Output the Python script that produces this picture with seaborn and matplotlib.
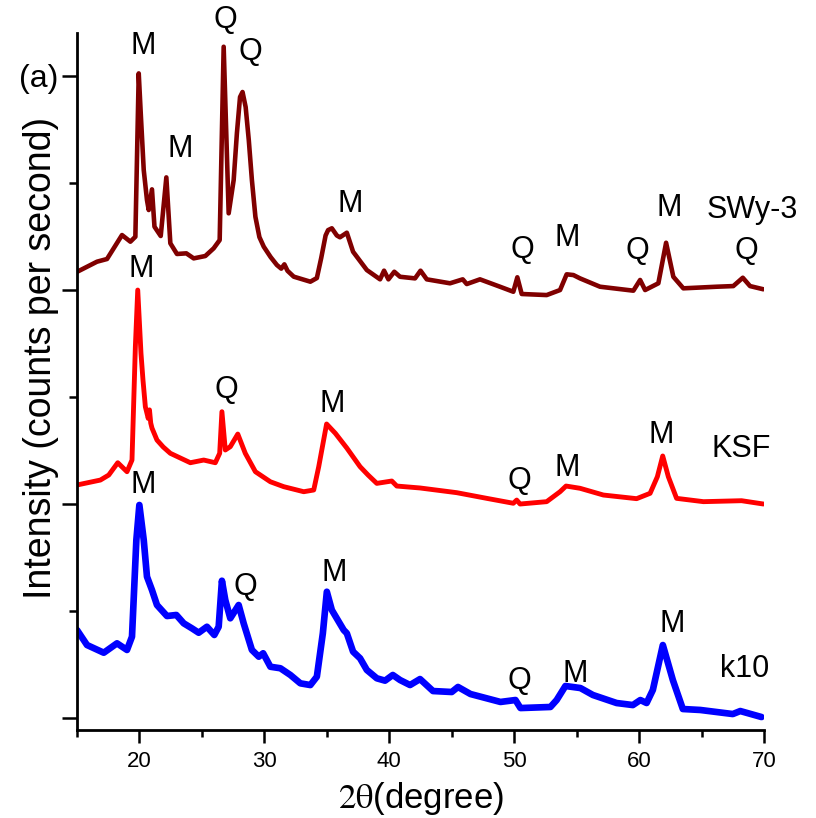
import matplotlib
matplotlib.use("Agg")
import matplotlib.pyplot as plt
import seaborn as sns
from matplotlib.ticker import MultipleLocator, NullFormatter

# two-theta (degree) and intensity, arbitrary cps units
swy_x = [15.0, 16.6, 17.4, 18.6, 19.27, 19.67, 19.94, 20.1, 20.34, 20.6, 20.74, 21.0,
         21.2, 21.7, 22.15, 22.47, 23.0, 23.75, 24.34, 25.27, 25.94, 26.42, 26.74,
         27.14, 27.54, 27.8, 28.05, 28.25, 28.5, 28.75, 29.0, 29.28, 29.6, 29.95,
         30.5, 31.0, 31.35, 31.6, 31.85, 32.35, 33.68, 34.2, 34.55, 34.9, 35.1, 35.4,
         35.8, 36.05, 36.6, 37.1, 38.2, 39.26, 39.58, 39.93, 40.4, 40.86, 42.06,
         42.5, 43.0, 44.86, 45.88, 46.2, 47.26, 48.86, 49.93, 50.25, 50.6, 52.6,
         53.67, 54.2, 54.74, 55.27, 56.87, 59.54, 60.08, 60.48, 61.54, 62.16, 62.74,
         63.54, 66.21, 67.54, 68.3, 68.88, 69.95]
swy_y = [4170, 4265, 4290, 4514, 4452, 4498, 6025, 5654, 5122, 4841, 4748, 4941,
         4592, 4505, 5053, 4437, 4337, 4343, 4296, 4318, 4390, 4467, 6274,
         4717, 5028, 5467, 5804, 5851, 5710, 5402, 5028, 4685, 4495, 4405,
         4308, 4234, 4200, 4240, 4180, 4125, 4078, 4112, 4300, 4510, 4560, 4577,
         4510, 4493, 4536, 4358, 4187, 4100, 4181, 4100, 4171, 4124, 4109,
         4181, 4100, 4063, 4100, 4056, 4100, 4031, 3984, 4119, 3963, 3953,
         4000, 4147, 4140, 4109, 4031, 3994, 4094, 4000, 4063, 4442, 4124,
         4016, 4031, 4037, 4115, 4037, 4007]

ksf_x = [15.0, 16.87, 17.54, 18.26, 19.0, 19.4, 19.67, 19.86, 20.12, 20.28, 20.47,
         20.7, 20.8, 20.9, 21.0, 21.4, 21.9, 22.47, 24.07, 25.14, 26.07, 26.42, 26.6,
         26.87, 27.27, 27.87, 28.47, 29.28, 30.48, 31.55, 33.15, 33.95, 34.35, 34.98,
         35.68, 36.6, 37.66, 38.3, 39.0, 40.2, 40.6, 42.46, 45.4, 47.8, 49.93, 50.2,
         50.47, 52.6, 53.67, 54.15, 55.27, 57.14, 59.8, 60.88, 61.46, 61.89, 62.34,
         63.0, 65.15, 68.2, 69.95]
ksf_y = [2178, 2224, 2271, 2386, 2302, 2411, 3470, 4000, 3408, 3159, 2909,
         2800, 2880, 2757, 2710, 2598, 2533, 2474, 2386, 2411, 2386, 2474, 2863,
         2505, 2536, 2654, 2474, 2302, 2208, 2162, 2115, 2131, 2349, 2748,
         2661, 2523, 2349, 2271, 2193, 2215, 2168, 2150, 2106, 2053, 2007, 2037,
         2000, 2022, 2115, 2168, 2147, 2084, 2050, 2100, 2255, 2449, 2255,
         2053, 2022, 2031, 2000]

k10_x = [15.0, 15.8, 17.14, 18.2, 19.0, 19.4, 19.75, 19.99, 20.34, 20.6, 21.0, 21.4,
         22.2, 22.95, 23.54, 24.2, 24.74, 25.4, 25.99, 26.34, 26.6, 26.87, 27.27,
         27.94, 28.34, 29.0, 29.55, 29.9, 30.48, 31.28, 32.08, 32.88, 33.68, 34.2,
         34.68, 35.0, 35.4, 36.35, 36.6, 37.1, 37.66, 38.2, 39.0, 39.66, 40.28, 40.86,
         41.66, 42.46, 43.5, 45.0, 45.5, 46.5, 48.9, 50.1, 50.5, 52.9, 53.4, 54.1,
         55.3, 56.3, 58.2, 59.5, 60.1, 60.6, 61.1, 61.9, 62.7, 63.5, 64.9, 67.5,
         68.1, 69.8]
k10_y = [822, 682, 610, 698, 636, 760, 1664, 1991, 1664, 1321, 1196, 1056,
         953, 963, 885, 838, 797, 853, 776, 853, 1283, 1103, 932,
         1056, 885, 636, 573, 605, 479, 465, 402, 324, 308, 386,
         792, 1180, 1009, 822, 792, 620, 558, 449, 371, 349, 402, 355,
         308, 364, 252, 243, 290, 224, 150, 168, 93, 103, 168, 299,
         280, 215, 140, 121, 168, 140, 262, 682, 355, 84, 75, 37,
         65, 9]

# peak labels: (text, x, y baseline)
swy_labels = [("M", 20.28, 6206), ("Q", 26.85, 6449), ("Q", 28.85, 6150),
              ("M", 23.25, 5244), ("M", 36.86, 4730), ("Q", 50.63, 4300),
              ("M", 54.23, 4412), ("Q", 59.84, 4290), ("M", 62.40, 4692),
              ("Q", 68.56, 4290)]
ksf_labels = [("M", 20.12, 4122), ("Q", 26.93, 2991), ("M", 35.42, 2860),
              ("Q", 50.39, 2141), ("M", 54.23, 2262), ("M", 61.76, 2571)]
k10_labels = [("M", 20.28, 2103), ("Q", 28.45, 1150), ("M", 35.58, 1281),
              ("Q", 50.39, 271), ("M", 54.87, 337), ("M", 62.64, 804)]
sample_names = [("SWy-3", 69.04, 4673), ("KSF", 68.16, 2440), ("k10", 68.48, 384)]

sns.set_style("ticks")
plt.rcParams["font.family"] = ["Liberation Sans", "DejaVu Sans"]
plt.rcParams["mathtext.fontset"] = "stix"
plt.rcParams["text.color"] = "black"
plt.rcParams["axes.labelcolor"] = "black"
plt.rcParams["axes.edgecolor"] = "black"
plt.rcParams["xtick.color"] = "black"
plt.rcParams["ytick.color"] = "black"

fig = plt.figure(figsize=(8.16, 8.18), dpi=100)
ax = fig.add_axes([0.0944, 0.1076, 0.8419, 0.852])

sns.lineplot(x=swy_x, y=swy_y, color="#800000", lw=3.3, ax=ax)
sns.lineplot(x=ksf_x, y=ksf_y, color="#ff0000", lw=3.5, ax=ax)
sns.lineplot(x=k10_x, y=k10_y, color="#0000ff", lw=4.8, ax=ax)

for group in (swy_labels, ksf_labels, k10_labels):
    for txt, x, y in group:
        ax.text(x, y, txt, fontsize=22, ha="center", va="baseline")
for txt, x, y in sample_names:
    ax.text(x, y, txt, fontsize=22, ha="center", va="baseline")
ax.text(11.96, 5900, "(a)", fontsize=23, ha="center", va="baseline", clip_on=False)

ax.set_xlim(15, 70)
ax.set_ylim(-112, 6402)
ax.xaxis.set_major_locator(MultipleLocator(10))
ax.xaxis.set_minor_locator(MultipleLocator(5))
ax.yaxis.set_major_locator(MultipleLocator(2000))
ax.yaxis.set_minor_locator(MultipleLocator(1000))
ax.yaxis.set_major_formatter(NullFormatter())

ax.tick_params(axis="x", which="major", length=9, width=1.8, labelsize=16, pad=6)
ax.tick_params(axis="x", which="minor", length=5, width=1.8)
ax.tick_params(axis="y", which="major", length=11, width=1.8)
ax.tick_params(axis="y", which="minor", length=6, width=1.8)
sns.despine(ax=ax)
for side in ("left", "bottom"):
    ax.spines[side].set_linewidth(2)

ax.set_xlabel(r"$\mathrm{2\theta}$(degree)", fontsize=25, labelpad=6)
ax.set_ylabel("Intensity (counts per second)", fontsize=27)
ax.yaxis.set_label_coords(-0.026, 0.534)

fig.savefig("out.png", dpi=100)
plt.close(fig)
